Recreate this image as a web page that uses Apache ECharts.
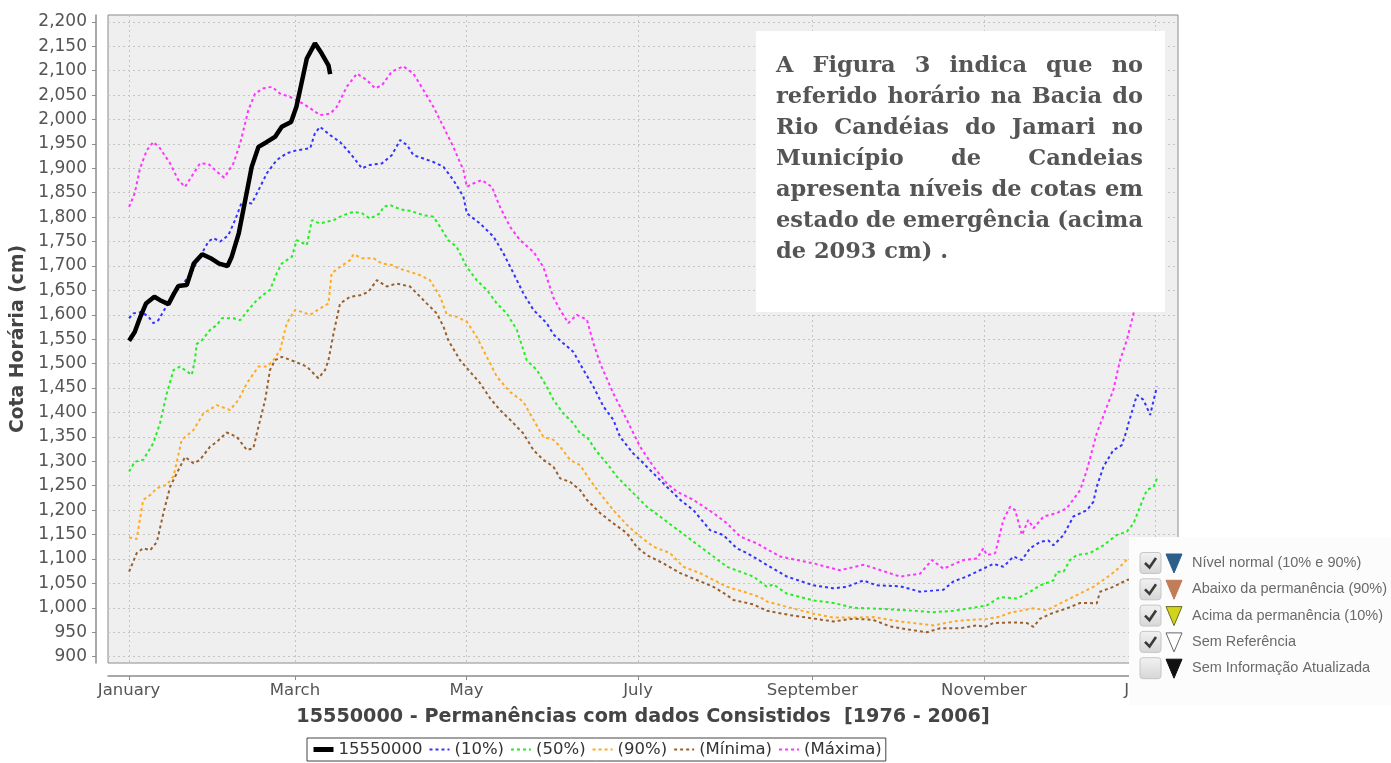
<!DOCTYPE html>
<html>
<head>
<meta charset="utf-8">
<script src="https://cdn.jsdelivr.net/npm/echarts@6/dist/echarts.min.js"></script>
<style>
html, body { margin: 0; padding: 0; background: #fff; }
#chart { width: 1391px; height: 763px; }
</style>
</head>
<body>
<div id="chart"></div>
<script>
// dia do ano (0 = 1 de janeiro), cota em cm
var monthDays = [0, 59, 120, 181, 243, 304, 365];
var monthNames = ['January', 'March', 'May', 'July', 'September', 'November', 'January'];
var yTicks = [900, 950, 1000, 1050, 1100, 1150, 1200, 1250, 1300, 1350, 1400, 1450, 1500, 1550,
    1600, 1650, 1700, 1750, 1800, 1850, 1900, 1950, 2000, 2050, 2100, 2150, 2200];

var observada = [[0,1547],[2,1565],[4,1596],[6,1623],[9,1637],[11,1630],[14,1622],[16,1644],[17.5,1659],
    [20.5,1661],[23,1705],[26,1724],[29,1716],[32,1705],[35,1700],[36.5,1719],[39,1767],[41.3,1835],
    [43.6,1903],[46,1944],[49,1954],[52,1965],[54.3,1985],[57.6,1995],[59.5,2026],[61.3,2074],
    [63.2,2125],[66.1,2156],[68.5,2135],[70.9,2111],[71.5,2093]];

var p10 = [[0,1593],[1.5,1603],[4.5,1606],[6.9,1596],[8.6,1583],[10.4,1589],[12.8,1613],[15.8,1644],
    [19.3,1664],[22.3,1688],[25.2,1719],[28.2,1750],[30,1757],[32.4,1750],[35.3,1763],[37.7,1794],
    [40.1,1831],[43.6,1828],[46,1855],[49,1890],[52.5,1917],[56.1,1931],[59.6,1937],[64.4,1941],
    [66.1,1972],[67.9,1985],[71.5,1968],[75,1954],[78.6,1931],[82.8,1900],[85.7,1907],[89.9,1910],
    [93.4,1927],[96.4,1958],[98.8,1948],[101.1,1927],[104.7,1920],[108.2,1913],[111.8,1903],
    [115.3,1876],[118.9,1842],[120.1,1808],[124.8,1787],[129.6,1760],[133.1,1726],[136.7,1685],
    [140.2,1644],[143.8,1610],[148.5,1583],[150.9,1560],[154.4,1542],[158,1524],[161.6,1487],
    [165.1,1453],[168.7,1412],[172.2,1385],[174.6,1350],[179.3,1316],[181.7,1303],[186.5,1275],
    [191.2,1248],[196,1221],[200.7,1200],[206.6,1159],[211.3,1149],[216.1,1122],[219.7,1112],
    [226.8,1088],[233.9,1064],[243.4,1046],[250.5,1040],[255.2,1043],[261.1,1056],[265.9,1046],
    [274.2,1044],[281.3,1033],[289.6,1037],[293.1,1054],[297.9,1064],[302.6,1077],[307.4,1090],
    [310.9,1084],[314.5,1105],[317.5,1098],[320.4,1122],[324,1135],[326.9,1138],[328.7,1128],
    [332.3,1149],[335.8,1187],[340.6,1200],[342.9,1217],[344.1,1248],[346.5,1289],[350,1323],
    [353,1333],[354.8,1364],[355.4,1378],[358.4,1436],[360.7,1426],[363.1,1395],[365.5,1453]];

var p50 = [[0,1279],[2,1299],[5,1303],[8.6,1337],[11,1378],[13.4,1439],[15.8,1487],[18.1,1494],
    [22.3,1477],[23.5,1510],[24,1540],[25.9,1548],[28.8,1569],[31.2,1579],[33,1593],[37.1,1593],
    [39.5,1589],[42.4,1610],[45.4,1630],[48.4,1644],[50.1,1651],[52.5,1685],[54.3,1705],[57.9,1719],
    [59.6,1753],[63.2,1743],[65,1794],[67.9,1787],[72.7,1794],[76.2,1804],[79.8,1811],[82.8,1808],
    [85.7,1797],[89.3,1808],[90.4,1821],[92.8,1825],[96.4,1816],[99.9,1813],[104.7,1804],[108.2,1801],
    [110.6,1780],[113.5,1753],[116.5,1739],[120.1,1698],[123.6,1671],[127.2,1651],[130.8,1623],
    [134.3,1603],[137.9,1569],[141.4,1507],[145,1487],[148.5,1453],[150.9,1426],[154.4,1398],
    [158,1378],[160.4,1357],[162.8,1350],[166.3,1320],[169.9,1296],[173.4,1269],[177,1248],
    [180.5,1228],[184.1,1207],[188.8,1187],[193.6,1166],[198.3,1146],[203.1,1125],[207.8,1105],
    [212.6,1084],[217.3,1074],[222,1064],[226.8,1043],[229.1,1048],[233.9,1029],[243.4,1015],
    [250.5,1010],[257.6,1000],[267.1,998],[276.6,995],[286.1,991],[293.1,994],[300.2,1000],
    [305,1005],[309.7,1022],[315.7,1019],[320.4,1033],[324,1046],[328.7,1056],[329.9,1074],
    [332.3,1074],[334.6,1098],[337,1108],[341.7,1112],[346.5,1128],[351.2,1149],[354.8,1156],
    [357.2,1173],[359.5,1207],[361.9,1241],[364.3,1248],[365.5,1265]];

var p90 = [[0,1144],[2.7,1141],[5,1221],[7.5,1231],[9.9,1245],[13.4,1252],[15.8,1269],[18.7,1344],
    [22.9,1364],[26.4,1398],[31.2,1415],[35.9,1405],[38.9,1426],[41.9,1460],[46,1494],[49,1494],
    [51.3,1507],[53.7,1528],[56.1,1583],[59,1610],[61.4,1606],[64.4,1600],[67.9,1613],[70.9,1623],
    [72,1685],[75,1698],[78.6,1712],[79.8,1724],[82.8,1716],[86.9,1716],[89.9,1705],[93.4,1702],
    [96.4,1694],[99.9,1688],[103.5,1681],[107,1671],[110.6,1637],[113,1600],[116.5,1596],[120.1,1586],
    [123.6,1555],[127.2,1514],[130.8,1473],[135.5,1442],[140.2,1422],[143.8,1385],[147.3,1350],
    [150.9,1344],[153.3,1330],[156.8,1303],[160.4,1292],[164,1261],[167.5,1234],[172.2,1200],
    [177,1170],[181.7,1146],[186.5,1125],[192.4,1112],[197.1,1084],[203.1,1071],[207.8,1057],
    [212.6,1043],[218.5,1033],[224.4,1022],[226.8,1013],[233.9,1002],[243.4,988],[250.5,980],
    [257.6,980],[264.7,981],[274.2,972],[286.1,964],[293.1,972],[297.9,975],[305,977],[309.7,982],
    [313.3,990],[321.6,999],[326.3,995],[331.1,1009],[337,1026],[342.9,1043],[348.9,1067],
    [352.4,1084],[354.8,1099],[360,1105],[365,1115]];

var minima = [[0,1074],[2.7,1112],[5,1122],[7.5,1118],[9.9,1135],[12.2,1194],[14.6,1248],[16.9,1275],
    [19.9,1309],[22.9,1296],[25.2,1303],[28.8,1330],[31.2,1340],[34.7,1359],[38.3,1350],[41.9,1323],
    [44.2,1327],[46,1371],[48.4,1426],[50.1,1487],[51.9,1507],[54.3,1514],[59,1504],[63.2,1494],
    [67.3,1470],[69.7,1487],[70.9,1507],[72.7,1562],[75,1623],[78.6,1637],[82.1,1640],[85.1,1647],
    [88.1,1671],[91.6,1658],[95.2,1664],[99.9,1658],[102.3,1644],[105.9,1623],[109.4,1603],
    [111.8,1576],[113.5,1548],[117.7,1507],[120.7,1487],[124.8,1460],[128.4,1429],[131.9,1405],
    [135.5,1385],[140.2,1357],[143.8,1323],[147.3,1303],[150.9,1289],[153.3,1265],[156.8,1258],
    [160.4,1241],[162.8,1221],[167.5,1194],[172.2,1173],[177,1153],[180.5,1125],[184.1,1108],
    [190,1091],[196,1071],[201.9,1057],[207.8,1043],[212.6,1026],[214.9,1016],[222,1007],[226.8,994],
    [235.1,985],[243.4,978],[250.5,972],[257.6,978],[264.7,975],[270.6,962],[278.9,954],[283.7,950],
    [288.4,958],[295.5,958],[301.5,964],[304.4,961],[307.4,969],[314.5,970],[319.2,969],[321.6,961],
    [324,978],[328.7,990],[333.5,999],[338.2,1010],[341.7,1010],[344.1,1009],[345.3,1033],[350,1043],
    [354.8,1057],[360,1062],[365,1070]];

var maxima = [[0,1821],[2,1849],[3.9,1900],[6.3,1937],[8.6,1954],[11,1941],[14.6,1910],[17.5,1876],
    [19.9,1862],[22.2,1883],[25.2,1910],[28.2,1909],[31.2,1893],[33.8,1881],[37.1,1910],[39.5,1951],
    [42.4,2019],[44.8,2053],[47.8,2064],[50.8,2067],[53.7,2053],[57.3,2046],[60.8,2036],[64.4,2023],
    [67.9,2009],[71.5,2012],[73.9,2026],[77.4,2067],[81,2094],[84.5,2081],[87.5,2064],[89.9,2070],
    [93.4,2098],[97.5,2109],[101.1,2094],[104.7,2060],[108.2,2026],[111.8,1985],[115.3,1944],
    [118.9,1896],[120.1,1862],[122.4,1869],[125.4,1876],[129,1862],[131.9,1821],[135.5,1780],
    [139,1753],[143.8,1729],[147.3,1698],[150.9,1635],[153.3,1610],[156.2,1583],[159.2,1600],
    [162.8,1590],[165.1,1542],[167.5,1501],[172.2,1439],[177,1385],[181.7,1330],[186.5,1289],
    [191.2,1255],[194.8,1238],[200.7,1221],[207.8,1194],[212.6,1173],[217.3,1146],[223.2,1132],
    [231.5,1105],[243.4,1091],[252.8,1077],[261.1,1088],[263.5,1084],[274.2,1064],[281.3,1070],
    [285.5,1098],[289.6,1080],[296.7,1098],[301.5,1101],[303.8,1122],[305,1108],[308,1112],
    [310.9,1180],[313.3,1207],[315.1,1200],[317.5,1149],[319.8,1180],[321.6,1163],[325.2,1187],
    [329.9,1194],[333.5,1204],[338.2,1241],[340.6,1282],[344.1,1357],[347.7,1412],[350,1446],
    [352.4,1507],[354.8,1548],[357.2,1603],[361,1680],[365,1760]];

var noteLines = ['A Figura 3 indica que no', 'referido horário na Bacia do', 'Rio Candéias do Jamari no',
    'Município de Candeias', 'apresenta níveis de cotas em', 'estado de emergência (acima', 'de 2093 cm) .'];

var statusItems = ['Nível normal (10% e 90%)', 'Abaixo da permanência (90%)', 'Acima da permanência (10%)',
    'Sem Referência', 'Sem Informação Atualizada'];
var statusColors = ['#2d5f8b', '#c27c58', '#d2d41c', '#ffffff', '#111111'];
var statusChecked = [true, true, true, true, false];

var font = 'DejaVu Sans';

function dashed(name, data, color) {
    return {
        name: name, type: 'line', data: data, symbol: 'none', z: 3,
        lineStyle: { color: color, width: 2, type: [3, 3] },
        itemStyle: { color: color }
    };
}

// texto justificado da caixa de observação
var noteFontSize = 22.5;
var ctx = document.createElement('canvas').getContext('2d');
ctx.font = 'bold ' + noteFontSize + 'px "DejaVu Serif"';
var noteLeft = 776, noteRight = 1143;
var graphics = [];
graphics.push({ type: 'rect', z: 100, shape: { x: 756, y: 31, width: 409, height: 281 }, style: { fill: '#fff' } });
for (var i = 0; i < noteLines.length; i++) {
    var yc = 66 + i * 31;
    var words = noteLines[i].split(' ');
    var last = i == noteLines.length - 1;
    var total = 0;
    var ws = words.map(function (w) { var m = ctx.measureText(w).width; total += m; return m; });
    var gap = last ? ctx.measureText(' ').width : (noteRight - noteLeft - total) / (words.length - 1);
    var x = noteLeft;
    for (var j = 0; j < words.length; j++) {
        graphics.push({
            type: 'text', z: 101, x: x, y: yc,
            style: { text: words[j], fontFamily: 'DejaVu Serif', fontWeight: 'bold', fontSize: noteFontSize,
                fill: '#555', verticalAlign: 'middle' }
        });
        x += ws[j] + gap;
    }
}

// painel de status (canto inferior direito)
graphics.push({ type: 'rect', z: 100, shape: { x: 1129, y: 537, width: 262, height: 168 }, style: { fill: '#fcfcfc' } });
for (var k = 0; k < statusItems.length; k++) {
    var cy = 563 + k * 26.3;
    graphics.push({
        type: 'rect', z: 101, shape: { x: 1140, y: cy - 10.5, width: 21, height: 21, r: 3 },
        style: { fill: new echarts.graphic.LinearGradient(0, 0, 0, 1, [{ offset: 0, color: '#f2f2f2' }, { offset: 1, color: '#d6d6d6' }]),
            stroke: '#c6c6c6', lineWidth: 1 }
    });
    if (statusChecked[k]) {
        graphics.push({
            type: 'polyline', z: 102, shape: { points: [[1145, cy], [1149.5, cy + 4.5], [1156, cy - 5]] },
            style: { stroke: '#3a3a3a', lineWidth: 2.6, fill: null }
        });
    }
    graphics.push({
        type: 'polygon', z: 101, shape: { points: [[1166, cy - 9], [1182, cy - 9], [1174, cy + 10]] },
        style: { fill: statusColors[k], stroke: k == 3 ? '#666' : (k == 2 ? '#6b6b20' : statusColors[k]), lineWidth: 1 }
    });
    graphics.push({
        type: 'text', z: 101, x: 1192, y: cy,
        style: { text: statusItems[k], fontFamily: 'Liberation Sans', fontSize: 14.5, fill: '#6a6a6a', verticalAlign: 'middle' }
    });
}

var chart = echarts.init(document.getElementById('chart'));
var option = {
    animation: false,
    backgroundColor: '#fff',
    textStyle: { fontFamily: font },
    grid: {
        left: 108, right: 213, top: 15, bottom: 100,
        containLabel: false, outerBoundsMode: 'none',
        show: true, backgroundColor: '#efefef', borderColor: '#8c8c8c', borderWidth: 1
    },
    legend: {
        left: 307, top: 738, itemGap: 6, itemWidth: 20, itemHeight: 10,
        padding: [3, 4, 3, 4],
        backgroundColor: '#fff', borderColor: '#444', borderWidth: 1, borderRadius: 0,
        itemStyle: { opacity: 0 },
        textStyle: { fontFamily: font, fontSize: 16.5, color: '#333' },
        data: [{ name: '15550000', lineStyle: { width: 5 } }, '(10%)', '(50%)', '(90%)', '(Mínima)', '(Máxima)']
    },
    xAxis: {
        type: 'value', min: -7.5, max: 373, offset: 13,
        name: '15550000 - Permanências com dados Consistidos  [1976 - 2006]',
        nameLocation: 'middle', nameGap: 32,
        nameTextStyle: { fontFamily: font, fontSize: 19.2, fontWeight: 'bold', color: '#444' },
        axisLine: { show: true, onZero: false, lineStyle: { color: '#8c8c8c', width: 1.5 } },
        axisTick: { show: true, length: 4, customValues: monthDays, lineStyle: { color: '#8c8c8c' } },
        axisLabel: {
            customValues: monthDays, margin: 6, fontSize: 16.5, color: '#555', fontFamily: font,
            formatter: function (v) { return monthNames[monthDays.indexOf(v)]; }
        },
        splitLine: { show: true, lineStyle: { color: '#c4c4c4', type: [2, 3], width: 1 } }
    },
    yAxis: {
        type: 'value', min: 887, max: 2214, offset: 12,
        name: 'Cota Horária (cm)', nameLocation: 'middle', nameGap: 60,
        nameTextStyle: { fontFamily: font, fontSize: 18.8, fontWeight: 'bold', color: '#444' },
        axisLine: { show: true, onZero: false, lineStyle: { color: '#8c8c8c', width: 1.5 } },
        axisTick: { show: true, length: 4, customValues: yTicks, lineStyle: { color: '#8c8c8c' } },
        axisLabel: {
            customValues: yTicks, margin: 9, fontSize: 17, color: '#555', fontFamily: font,
            formatter: function (v) { return v.toLocaleString('en-US'); }
        },
        splitLine: { show: true, lineStyle: { color: '#c4c4c4', type: [2, 3], width: 1 } }
    },
    series: [
        { name: '15550000', type: 'line', data: observada, symbol: 'none', z: 5,
          lineStyle: { color: '#000', width: 4.5 }, itemStyle: { color: '#000' } },
        dashed('(10%)', p10, '#3333ff'),
        dashed('(50%)', p50, '#22ee22'),
        dashed('(90%)', p90, '#ffaa22'),
        dashed('(Mínima)', minima, '#99602e'),
        dashed('(Máxima)', maxima, '#ff33ff')
    ],
    graphic: graphics
};
chart.setOption(option);
</script>
</body>
</html>
